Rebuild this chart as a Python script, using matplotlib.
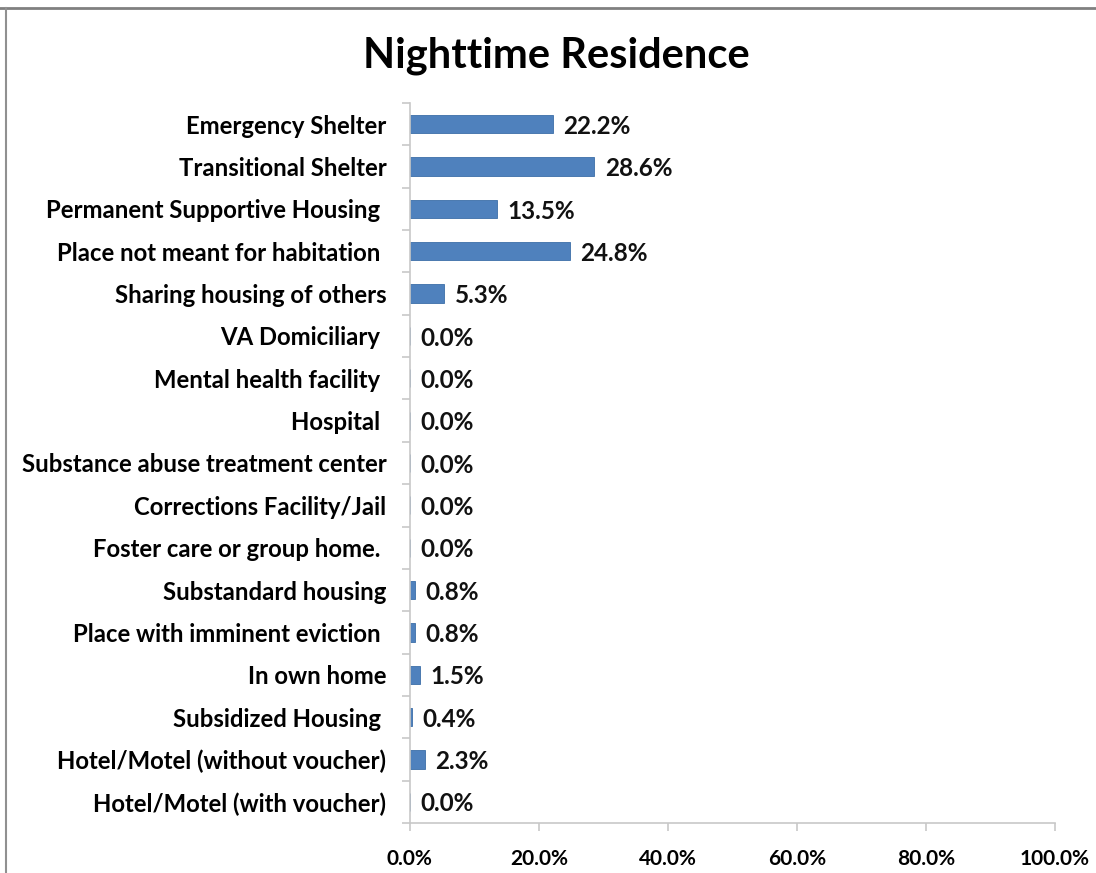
import matplotlib.pyplot as plt
import matplotlib.lines as mlines
import numpy as np

# data
categories = [
    'Emergency Shelter',
    'Transitional Shelter',
    'Permanent Supportive Housing ',
    'Place not meant for habitation ',
    'Sharing housing of others',
    'VA Domiciliary ',
    'Mental health facility ',
    'Hospital ',
    'Substance abuse treatment center',
    'Corrections Facility/Jail',
    'Foster care or group home. ',
    'Substandard housing',
    'Place with imminent eviction ',
    'In own home',
    'Subsidized Housing ',
    'Hotel/Motel (without voucher)',
    'Hotel/Motel (with voucher)',
]
percent = [22.2, 28.6, 13.5, 24.8, 5.3, 0.0, 0.0, 0.0, 0.0, 0.0, 0.0,
           0.8, 0.8, 1.5, 0.4, 2.3, 0.0]
x_ticks = [0, 20, 40, 60, 80, 100]

plt.rcParams['font.family'] = ['Lato', 'DejaVu Sans']
plt.rcParams['font.weight'] = 'bold'

bar_color = '#4f81bd'
axis_color = '#c8c8c8'

fig = plt.figure(figsize=(10.96, 8.73), dpi=100)
ax = fig.add_axes([0.374, 0.0573, 0.5886, 0.8247])

y = np.arange(len(categories))
bars = ax.barh(y, percent, height=0.43, color=bar_color,
               edgecolor='#3c6ea8', linewidth=0.6)

for yi, v in zip(y, percent):
    ax.text(v + 1.6, yi + 0.05, f'{v:.1f}%', va='center', ha='left',
            fontsize=17.5, fontweight='bold', color='#111111')

ax.set_ylim(len(categories) - 0.5, -0.5)
ax.set_xlim(0, 100)

# category labels
ax.set_yticks(y)
ax.set_yticklabels(categories, fontsize=17.2, fontweight='bold')
ax.tick_params(axis='y', length=0, pad=17)
# excel style ticks between categories
ax.set_yticks(np.arange(-0.5, len(categories), 1.0), minor=True)
ax.tick_params(axis='y', which='minor', length=6, color=axis_color, width=1.2)

ax.set_xticks(x_ticks)
ax.set_xticklabels([f'{t:.1f}%' for t in x_ticks], fontsize=15, fontweight='bold')
ax.tick_params(axis='x', length=6, color=axis_color, width=1.2, pad=13)

for side in ['top', 'right']:
    ax.spines[side].set_visible(False)
for side in ['left', 'bottom']:
    ax.spines[side].set_color(axis_color)
    ax.spines[side].set_linewidth(1.2)

fig.suptitle('Nighttime Residence', fontsize=30, fontweight='bold', x=0.508, y=0.958)

# outer frame lines (top and left only visible)
fig.add_artist(mlines.Line2D([0, 1], [0.9908, 0.9908], transform=fig.transFigure,
                             color='#808080', linewidth=2))
fig.add_artist(mlines.Line2D([0.0055, 0.0055], [0, 0.9908], transform=fig.transFigure,
                             color='#909090', linewidth=1.5))

fig.savefig('out.png', dpi=100)
